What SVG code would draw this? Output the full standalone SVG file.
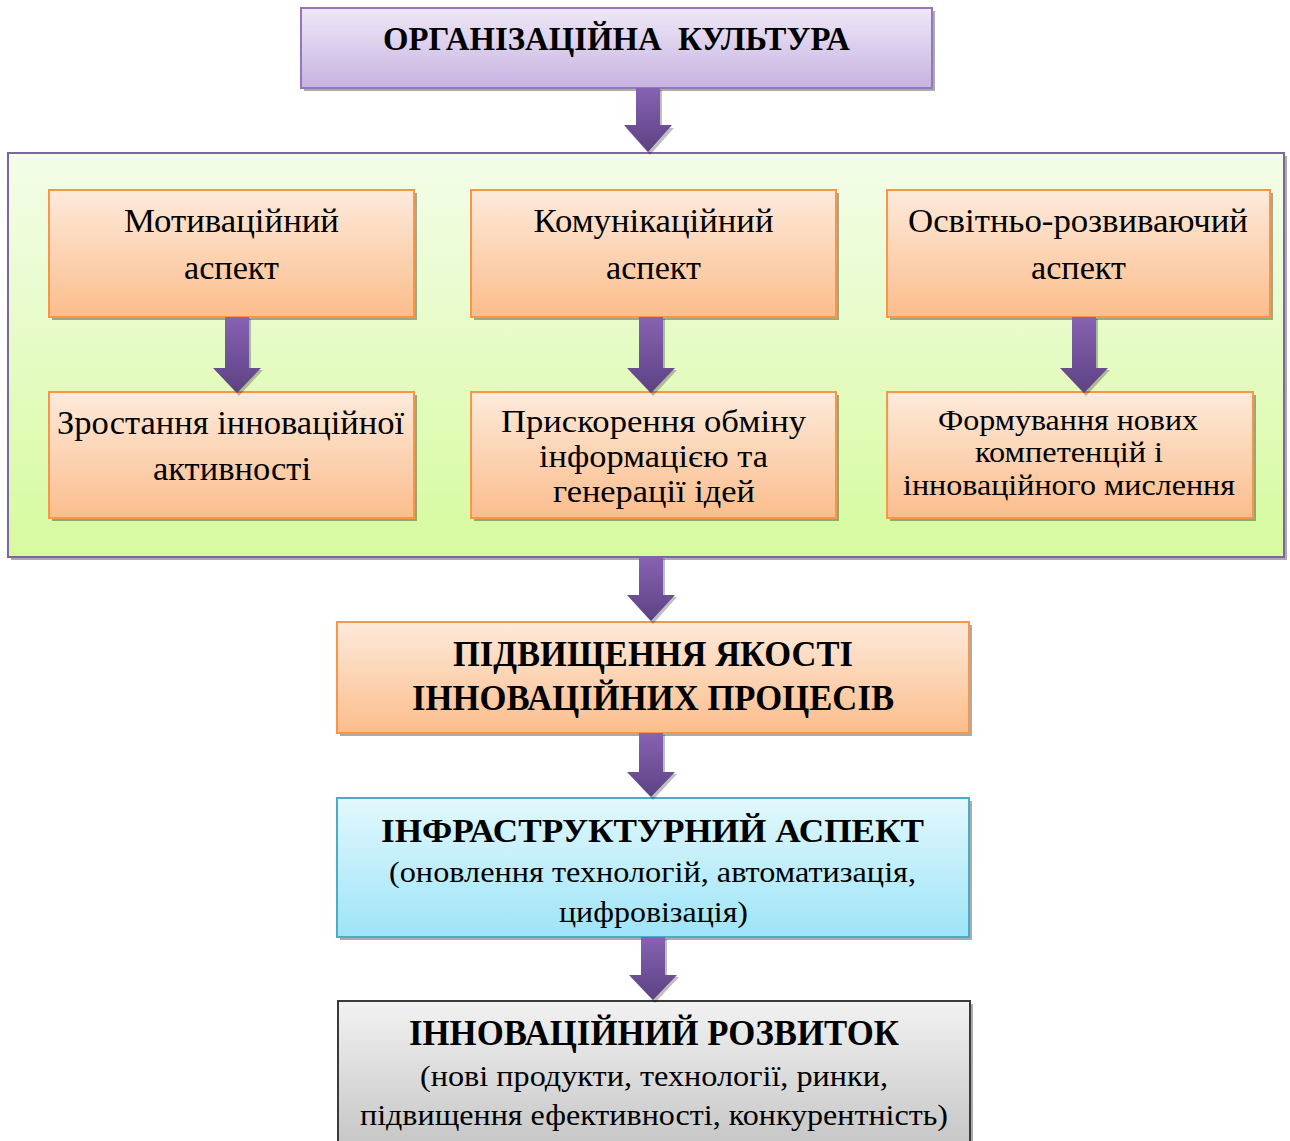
<svg xmlns="http://www.w3.org/2000/svg" width="1290" height="1141" viewBox="0 0 1290 1141">
<defs>
<linearGradient id="gPurple" x1="0" y1="0" x2="0" y2="1"><stop offset="0" stop-color="#efe8f7"/><stop offset="1" stop-color="#c7b3e0"/></linearGradient>
<linearGradient id="gGreen" x1="0" y1="0" x2="0" y2="1"><stop offset="0" stop-color="#f3fde9"/><stop offset="1" stop-color="#d7fa9e"/></linearGradient>
<linearGradient id="gOrange" x1="0" y1="0" x2="0" y2="1"><stop offset="0" stop-color="#fdeadb"/><stop offset="1" stop-color="#fbbd8c"/></linearGradient>
<linearGradient id="gBlue" x1="0" y1="0" x2="0" y2="1"><stop offset="0" stop-color="#e3f8fd"/><stop offset="1" stop-color="#9de4f7"/></linearGradient>
<linearGradient id="gGrey" x1="0" y1="0" x2="0" y2="1"><stop offset="0" stop-color="#f2f2f2"/><stop offset="1" stop-color="#c6c6c6"/></linearGradient>
<linearGradient id="gArrow" x1="0" y1="0" x2="0" y2="1"><stop offset="0" stop-color="#8762b4"/><stop offset="1" stop-color="#5c4282"/></linearGradient>
</defs>
<style>
.sh{fill:#000;fill-opacity:0.33}
.t{font-family:"Liberation Serif","Times New Roman",serif;fill:#000;text-anchor:middle}
.b{font-weight:bold}
.orange{fill:url(#gOrange);stroke:#f79646;stroke-width:2}
.arrow{fill:url(#gArrow)}
.ash{fill:#000;fill-opacity:0.25}
</style>
<rect width="1290" height="1141" fill="#fff"/>

<g id="n-org">
<rect class="sh" x="304" y="11" width="631" height="80"/>
<rect x="301" y="8" width="631" height="80" fill="url(#gPurple)" stroke="#9478bd" stroke-width="2"/>
<text class="t b" x="616.5" y="50" font-size="34" textLength="467" lengthAdjust="spacingAndGlyphs" xml:space="preserve">ОРГАНІЗАЦІЙНА  КУЛЬТУРА</text>
</g>

<g id="n-container">
<rect class="sh" x="11" y="156" width="1276" height="404"/>
<rect x="8" y="153" width="1276" height="404" fill="url(#gGreen)" stroke="#8064a2" stroke-width="2"/>
</g>

<g id="n-motiv">
<rect class="sh" x="52" y="193" width="365" height="127"/>
<rect class="orange" x="49" y="190" width="365" height="127"/>
<text class="t" x="231.5" y="232" font-size="33" textLength="215" lengthAdjust="spacingAndGlyphs">Мотиваційний</text>
<text class="t" x="231.5" y="279" font-size="33" textLength="95" lengthAdjust="spacingAndGlyphs">аспект</text>
</g>
<g id="n-comm">
<rect class="sh" x="474" y="193" width="365" height="127"/>
<rect class="orange" x="471" y="190" width="365" height="127"/>
<text class="t" x="653.5" y="232" font-size="33" textLength="240" lengthAdjust="spacingAndGlyphs">Комунікаційний</text>
<text class="t" x="653.5" y="279" font-size="33" textLength="95" lengthAdjust="spacingAndGlyphs">аспект</text>
</g>
<g id="n-edu">
<rect class="sh" x="890" y="193" width="383" height="127"/>
<rect class="orange" x="887" y="190" width="383" height="127"/>
<text class="t" x="1078" y="232" font-size="33" textLength="340" lengthAdjust="spacingAndGlyphs">Освітньо-розвиваючий</text>
<text class="t" x="1078.5" y="279" font-size="33" textLength="95" lengthAdjust="spacingAndGlyphs">аспект</text>
</g>

<g id="n-growth">
<rect class="sh" x="52" y="395" width="365" height="126"/>
<rect class="orange" x="49" y="392" width="365" height="126"/>
<text class="t" x="230.5" y="434" font-size="33" textLength="347" lengthAdjust="spacingAndGlyphs">Зростання інноваційної</text>
<text class="t" x="232" y="480" font-size="33" textLength="158" lengthAdjust="spacingAndGlyphs">активності</text>
</g>
<g id="n-exchange">
<rect class="sh" x="474" y="395" width="365" height="126"/>
<rect class="orange" x="471" y="392" width="365" height="126"/>
<text class="t" x="653.5" y="432" font-size="32" textLength="305" lengthAdjust="spacingAndGlyphs">Прискорення обміну</text>
<text class="t" x="653.5" y="467" font-size="32" textLength="229" lengthAdjust="spacingAndGlyphs">інформацією та</text>
<text class="t" x="654" y="502" font-size="32" textLength="202" lengthAdjust="spacingAndGlyphs">генерації ідей</text>
</g>
<g id="n-competence">
<rect class="sh" x="890" y="395" width="366" height="126"/>
<rect class="orange" x="887" y="392" width="366" height="126"/>
<text class="t" x="1068" y="430" font-size="30" textLength="260" lengthAdjust="spacingAndGlyphs">Формування нових</text>
<text class="t" x="1069" y="462" font-size="30" textLength="188" lengthAdjust="spacingAndGlyphs">компетенцій і</text>
<text class="t" x="1069" y="495" font-size="30" textLength="332" lengthAdjust="spacingAndGlyphs">інноваційного мислення</text>
</g>

<g id="n-quality">
<rect class="sh" x="340" y="625" width="632" height="111"/>
<rect class="orange" x="337" y="622" width="632" height="111"/>
<text class="t b" x="653" y="666" font-size="35" textLength="400" lengthAdjust="spacingAndGlyphs">ПІДВИЩЕННЯ ЯКОСТІ</text>
<text class="t b" x="653" y="710" font-size="35" textLength="482" lengthAdjust="spacingAndGlyphs">ІННОВАЦІЙНИХ ПРОЦЕСІВ</text>
</g>

<g id="n-infra">
<rect class="sh" x="340" y="801" width="632" height="139"/>
<rect x="337" y="798" width="632" height="139" fill="url(#gBlue)" stroke="#4bacc6" stroke-width="2"/>
<text class="t b" x="652.5" y="842" font-size="34" textLength="543" lengthAdjust="spacingAndGlyphs">ІНФРАСТРУКТУРНИЙ АСПЕКТ</text>
<text class="t" x="652.5" y="882" font-size="30" textLength="527" lengthAdjust="spacingAndGlyphs">(оновлення технологій, автоматизація,</text>
<text class="t" x="653.5" y="922" font-size="30" textLength="189" lengthAdjust="spacingAndGlyphs">цифровізація)</text>
</g>

<g id="n-dev">
<rect class="sh" x="341" y="1004" width="632" height="145"/>
<rect x="338" y="1001" width="632" height="145" fill="url(#gGrey)" stroke="#3a3a3a" stroke-width="2"/>
<text class="t b" x="654" y="1045" font-size="35" textLength="490" lengthAdjust="spacingAndGlyphs">ІННОВАЦІЙНИЙ РОЗВИТОК</text>
<text class="t" x="654" y="1086" font-size="30" textLength="468" lengthAdjust="spacingAndGlyphs">(нові продукти, технології, ринки,</text>
<text class="t" x="654" y="1125" font-size="30" textLength="588" lengthAdjust="spacingAndGlyphs">підвищення ефективності, конкурентність)</text>
</g>

<g id="connectors">
<path class="ash" d="M638,90 h24 v38 h12 l-24,27 l-24,-27 h12 z"/>
<path class="arrow" d="M636,88 h24 v37 h12 l-24,27 l-24,-27 h12 z"/>

<path class="ash" d="M227,319 h24 v51 h12 l-24,26 l-24,-26 h12 z"/>
<path class="arrow" d="M225,317 h24 v51 h12 l-24,25 l-24,-25 h12 z"/>
<path class="ash" d="M641,319 h24 v51 h12 l-24,26 l-24,-26 h12 z"/>
<path class="arrow" d="M639,317 h24 v51 h12 l-24,25 l-24,-25 h12 z"/>
<path class="ash" d="M1074,319 h24 v51 h12 l-24,26 l-24,-26 h12 z"/>
<path class="arrow" d="M1072,317 h24 v51 h12 l-24,25 l-24,-25 h12 z"/>

<path class="ash" d="M641,559 h24 v38 h12 l-24,27 l-24,-27 h12 z"/>
<path class="arrow" d="M639,557 h24 v38 h12 l-24,26 l-24,-26 h12 z"/>

<path class="ash" d="M641,735 h24 v39 h12 l-24,26 l-24,-26 h12 z"/>
<path class="arrow" d="M639,733 h24 v39 h12 l-24,25 l-24,-25 h12 z"/>

<path class="ash" d="M643,939 h24 v38 h12 l-24,26 l-24,-26 h12 z"/>
<path class="arrow" d="M641,937 h24 v38 h12 l-24,25 l-24,-25 h12 z"/>
</g>
</svg>
